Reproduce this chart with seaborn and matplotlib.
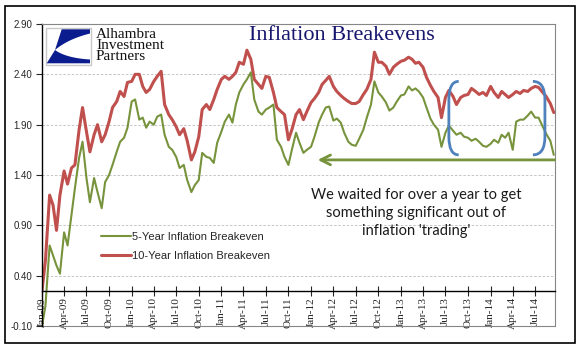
import matplotlib
matplotlib.use('Agg')
import matplotlib.pyplot as plt
import matplotlib.dates as mdates
from matplotlib.path import Path
from matplotlib.patches import PathPatch, Rectangle, Polygon
import numpy as np
import pandas as pd
import seaborn as sns

# semi-monthly readings, Jan 2009 - Sep 2014
red_2009 = [0.25, 0.55, 1.20, 1.10, 0.85, 1.20, 1.44, 1.31, 1.47, 1.50, 1.85, 2.07,
            1.83, 1.63, 1.80, 1.90, 1.73, 1.80, 1.93, 2.07, 2.13, 2.23, 2.18, 2.32]
red_2010 = [2.33, 2.40, 2.40, 2.28, 2.22, 2.25, 2.33, 2.38, 2.43, 2.10, 2.00, 1.95,
            1.88, 1.80, 1.86, 1.74, 1.55, 1.63, 1.78, 2.05, 2.10, 2.05, 2.15, 2.25]
red_2011 = [2.35, 2.38, 2.35, 2.38, 2.42, 2.52, 2.50, 2.64, 2.55, 2.35, 2.30, 2.26,
            2.38, 2.37, 2.22, 2.07, 2.03, 2.00, 1.75, 1.85, 2.00, 2.05, 1.95, 2.03]
red_2012 = [2.12, 2.16, 2.22, 2.30, 2.34, 2.38, 2.28, 2.23, 2.19, 2.16, 2.13, 2.11,
            2.11, 2.13, 2.20, 2.25, 2.35, 2.62, 2.52, 2.52, 2.48, 2.40, 2.47, 2.50]
red_2013 = [2.53, 2.54, 2.57, 2.55, 2.51, 2.52, 2.47, 2.37, 2.29, 2.23, 2.17, 1.97,
            2.17, 2.24, 2.18, 2.10, 2.17, 2.19, 2.20, 2.26, 2.23, 2.20, 2.22, 2.19]
red_2014 = [2.28, 2.22, 2.17, 2.23, 2.20, 2.17, 2.20, 2.23, 2.21, 2.24, 2.23, 2.26,
            2.28, 2.27, 2.22, 2.18, 2.11, 2.02]

green_2009 = [-0.10, 0.10, 0.70, 0.60, 0.50, 0.42, 0.83, 0.70, 1.00, 1.27, 1.57, 1.73,
              1.37, 1.13, 1.37, 1.23, 1.07, 1.33, 1.40, 1.50, 1.63, 1.73, 1.77, 1.87]
green_2010 = [2.13, 2.15, 1.95, 1.97, 1.87, 1.93, 1.90, 1.98, 2.00, 1.80, 1.68, 1.65,
              1.58, 1.47, 1.50, 1.35, 1.23, 1.30, 1.35, 1.62, 1.58, 1.57, 1.52, 1.72]
green_2011 = [1.83, 1.93, 2.00, 1.92, 2.10, 2.22, 2.30, 2.35, 2.42, 2.15, 2.03, 2.00,
              2.05, 2.07, 2.10, 1.75, 1.68, 1.58, 1.50, 1.65, 1.82, 1.72, 1.62, 1.65]
green_2012 = [1.68, 1.78, 1.92, 2.00, 2.07, 2.08, 1.94, 1.96, 1.92, 1.82, 1.73, 1.70,
              1.69, 1.76, 1.85, 1.97, 2.10, 2.33, 2.22, 2.18, 2.12, 2.04, 2.07, 2.13]
green_2013 = [2.19, 2.20, 2.28, 2.24, 2.26, 2.23, 2.17, 2.07, 1.96, 1.90, 1.85, 1.68,
              1.82, 1.89, 1.84, 1.80, 1.82, 1.78, 1.77, 1.74, 1.76, 1.73, 1.69, 1.68]
green_2014 = [1.71, 1.75, 1.72, 1.80, 1.77, 1.82, 1.65, 1.93, 1.95, 1.95, 1.99, 2.03,
              1.97, 1.97, 1.88, 1.81, 1.74, 1.60]

ten_year = red_2009 + red_2010 + red_2011 + red_2012 + red_2013 + red_2014
five_year = green_2009 + green_2010 + green_2011 + green_2012 + green_2013 + green_2014
dates = pd.date_range('2009-01-01', periods=len(ten_year), freq='SMS')

yticks = [-0.10, 0.40, 0.90, 1.40, 1.90, 2.40, 2.90]

RED = '#C0504D'
GREEN = '#77933C'
BLUE = '#4F81BD'
W, H = 583, 361

def fx(x):
    return x / W

def fy(y):
    return 1 - y / H

sns.set_style('white')
plt.rcParams['font.family'] = ['Liberation Sans', 'DejaVu Sans']

df = pd.DataFrame({'date': dates, 'five': five_year, 'ten': ten_year})

fig = plt.figure(figsize=(W / 100, H / 100), dpi=100)
ax = fig.add_axes([fx(42), fy(326), (555 - 42) / W, (326 - 24) / H])

sns.lineplot(data=df, x='date', y='ten', color=RED, lw=2.2,
             label='10-Year Inflation Breakeven', ax=ax)
sns.lineplot(data=df, x='date', y='five', color=GREEN, lw=1.5,
             label='5-Year Inflation Breakeven', ax=ax)

ax.set_xlim(pd.Timestamp('2009-01-01'), pd.Timestamp('2014-09-20'))
ax.set_ylim(-0.10, 2.90)
ax.set_yticks(yticks)
ax.set_yticklabels([f'{v:.2f}' for v in yticks])
ax.set_xlabel('')
ax.set_ylabel('')

ax.xaxis.set_major_locator(mdates.MonthLocator(bymonth=[1, 4, 7, 10]))
ax.xaxis.set_major_formatter(mdates.DateFormatter('%b-%y'))
ax.tick_params(axis='x', rotation=90, direction='inout', length=7, width=0.8,
               labelsize=8, pad=1, labelfontfamily='Liberation Serif', bottom=True)
ax.tick_params(axis='y', direction='out', length=4, width=0.8, labelsize=7, pad=3, left=True)

ax.yaxis.grid(True, ls=(0, (3, 2)), color='#BDBDBD', lw=0.6)
ax.xaxis.grid(False)

for s in ['top', 'right']:
    ax.spines[s].set_color('#868686')
    ax.spines[s].set_linewidth(0.8)
ax.spines['left'].set_color('black')
ax.spines['left'].set_linewidth(1)
ax.spines['bottom'].set_position(('data', 0.25))
ax.spines['bottom'].set_color('black')
ax.spines['bottom'].set_linewidth(1)
ax.axhline(-0.10, color='#868686', lw=0.8, clip_on=False)

h, l = ax.get_legend_handles_labels()
ax.legend([h[1], h[0]], [l[1], l[0]], loc='upper left', bbox_to_anchor=(0.115, 0.31),
          frameon=False, fontsize=8, handlelength=2.7, handletextpad=0.1,
          labelspacing=0.75, borderpad=0, borderaxespad=0)

# annotation: arrow and brackets
ax.annotate('', xy=(pd.Timestamp('2012-01-28'), 1.55), xytext=(pd.Timestamp('2014-09-19'), 1.55),
            arrowprops=dict(arrowstyle='->,head_length=0.7,head_width=0.35', color=GREEN,
                            lw=2, shrinkA=0, shrinkB=0))

def bracket(t_end, t_side, top, bot):
    e = mdates.date2num(pd.Timestamp(t_end))
    s = mdates.date2num(pd.Timestamp(t_side))
    verts = [(e, top), (s, top), (s, top - 0.18), (s, bot + 0.18), (s, bot), (e, bot)]
    codes = [Path.MOVETO, Path.CURVE3, Path.CURVE3, Path.LINETO, Path.CURVE3, Path.CURVE3]
    ax.add_patch(PathPatch(Path(verts, codes), fill=False, color=BLUE, lw=2, zorder=4))

bracket('2013-08-24', '2013-07-15', 2.33, 1.60)
bracket('2014-06-22', '2014-08-10', 2.33, 1.60)

fig.text(fx(416), fy(213), "We waited for over a year to get\nsomething significant out of\ninflation 'trading'",
         ha='center', va='center', family='Lato', size=10.5, linespacing=1.4, color='#1a1a1a')

# title and logo
fig.text(fx(342), fy(36), 'Inflation Breakevens', ha='center', va='center',
         family='Liberation Serif', size=16, color='#16166E')

fig.patches.append(Rectangle((fx(46), fy(65)), 45 / W, 37 / H, transform=fig.transFigure,
                             facecolor='white', edgecolor='#C8C8C8', lw=1))

def curve_pts(p0, c, p1, n=20):
    t = np.linspace(0, 1, n)[:, None]
    p0, c, p1 = map(np.array, (p0, c, p1))
    return (1 - t) ** 2 * p0 + 2 * (1 - t) * t * c + t ** 2 * p1

upper = [(61.7, 29.3), (90, 29.3)] + list(curve_pts((90, 33.5), (68, 39), (55, 50)))
lower = [(46.7, 63.3), (90, 63.3)] + list(curve_pts((90, 59.5), (66, 58), (55, 50)))
for shape in (upper, lower):
    pts = [(fx(x), fy(y)) for x, y in shape]
    fig.patches.append(Polygon(pts, closed=True, transform=fig.transFigure,
                               facecolor='#0B1C8E', edgecolor='none'))

fig.text(fx(96), fy(28), 'Alhambra\nInvestment\nPartners', ha='left', va='top',
         family='Liberation Serif', size=11, linespacing=0.78, color='#111111')

# outer border
fig.patches.append(Rectangle((fx(5), fy(343)), 570 / W, 337 / H, transform=fig.transFigure,
                             facecolor='none', edgecolor='black', lw=1.2))

fig.savefig('out.png', dpi=100)
